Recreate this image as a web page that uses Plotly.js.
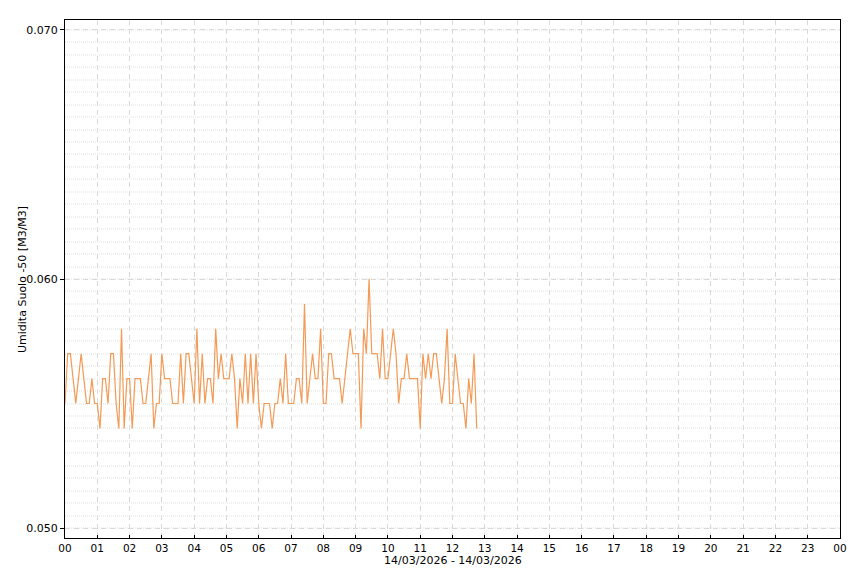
<!DOCTYPE html>
<html>
<head>
<meta charset="utf-8">
<script src="https://cdn.plot.ly/plotly-3.0.1.min.js"></script>
<style>html,body{margin:0;padding:0;background:#fff;}#chart{width:860px;height:573px;}</style>
</head>
<body>
<div id="chart"></div>
<script>
// Sampling: one reading every 5 minutes from 00:00 on 14/03/2026
const startTime = "2026-03-14T00:00:00";
const stepMinutes = 5;
// Soil moisture -50 readings [M3/M3]
const moisture = [
  0.055,0.057,0.057,0.056,0.055,0.056,0.057,0.056,0.055,0.055,
  0.056,0.055,0.055,0.054,0.056,0.056,0.055,0.057,0.057,0.055,
  0.054,0.058,0.054,0.056,0.056,0.054,0.056,0.056,0.056,0.055,
  0.055,0.056,0.057,0.054,0.055,0.055,0.057,0.056,0.056,0.056,
  0.055,0.055,0.055,0.057,0.055,0.057,0.057,0.056,0.055,0.058,
  0.055,0.057,0.055,0.056,0.056,0.055,0.058,0.056,0.057,0.056,
  0.056,0.056,0.057,0.056,0.054,0.056,0.055,0.057,0.055,0.057,
  0.055,0.057,0.055,0.054,0.055,0.055,0.055,0.054,0.055,0.055,
  0.056,0.055,0.057,0.055,0.055,0.055,0.056,0.056,0.055,0.059,
  0.055,0.056,0.057,0.056,0.056,0.058,0.055,0.055,0.057,0.057,
  0.056,0.056,0.056,0.055,0.056,0.057,0.058,0.057,0.057,0.057,
  0.054,0.058,0.057,0.060,0.057,0.057,0.057,0.056,0.058,0.056,
  0.056,0.057,0.058,0.057,0.055,0.056,0.056,0.057,0.056,0.056,
  0.056,0.056,0.054,0.057,0.056,0.057,0.056,0.057,0.057,0.056,
  0.055,0.056,0.058,0.055,0.055,0.057,0.056,0.055,0.055,0.054,
  0.056,0.055,0.057,0.054
];
const yTickVals = [0.050, 0.060, 0.070];
const yTickText = ["0.050", "0.060", "0.070"];
const yTitle = "Umidita Suolo -50 [M3/M3]";
const xTitle = "14/03/2026 - 14/03/2026";
const xRange = ["2026-03-14 00:00:00", "2026-03-15 00:00:00"];

function pad(n){return (n<10?"0":"")+n;}
const times = moisture.map((_, i) => {
  const m = i * stepMinutes;
  return "2026-03-14 " + pad(Math.floor(m/60)) + ":" + pad(m%60) + ":00";
});

const font = {family: "DejaVu Sans, Verdana, sans-serif", size: 11, color: "#000"};
const xTickFont = {family: "DejaVu Sans, Verdana, sans-serif", size: 10.5, color: "#000"};

const trace = {
  x: times, y: moisture, type: "scatter", mode: "lines",
  line: {color: "#f39a56", width: 1.2},
  hoverinfo: "x+y"
};

const layout = {
  width: 860, height: 573,
  margin: {l: 65, r: 20, t: 20, b: 35},
  paper_bgcolor: "#fff", plot_bgcolor: "#fff",
  font: font,
  showlegend: false,
  xaxis: {
    type: "date", range: xRange,
    dtick: 3600000, tickformat: "%H",
    ticks: "inside", ticklen: 3, tickcolor: "#000", tickwidth: 1,
    showline: true, linecolor: "#000", linewidth: 1, mirror: true,
    showgrid: true, gridcolor: "#d9d9d9", gridwidth: 1, griddash: "5px,4px",
    zeroline: false,
    tickfont: xTickFont
  },
  yaxis: {
    range: [0.0496, 0.0704],
    tickmode: "array", tickvals: yTickVals, ticktext: yTickText,
    ticks: "outside", ticklen: 4, tickcolor: "#000", tickwidth: 1,
    showline: true, linecolor: "#000", linewidth: 1, mirror: true,
    showgrid: true, gridcolor: "#d9d9d9", gridwidth: 1, griddash: "5px,4px",
    zeroline: false,
    tickfont: font,
    minor: {dtick: 0.0005, tick0: 0.05, showgrid: true, gridcolor: "#efefef", gridwidth: 2, griddash: "1px,1px", ticks: ""}
  },
  annotations: [
    {text: yTitle, xref: "paper", yref: "paper", x: -0.0555, y: 0.5, xanchor: "center", yanchor: "middle",
     textangle: -90, showarrow: false, font: font},
    {text: xTitle, xref: "paper", yref: "paper", x: 0.5, y: -0.0425, xanchor: "center", yanchor: "middle",
     showarrow: false, font: font, borderpad: 0}
  ]
};

Plotly.newPlot("chart", [trace], layout, {displayModeBar: false, staticPlot: true});
</script>
</body>
</html>
